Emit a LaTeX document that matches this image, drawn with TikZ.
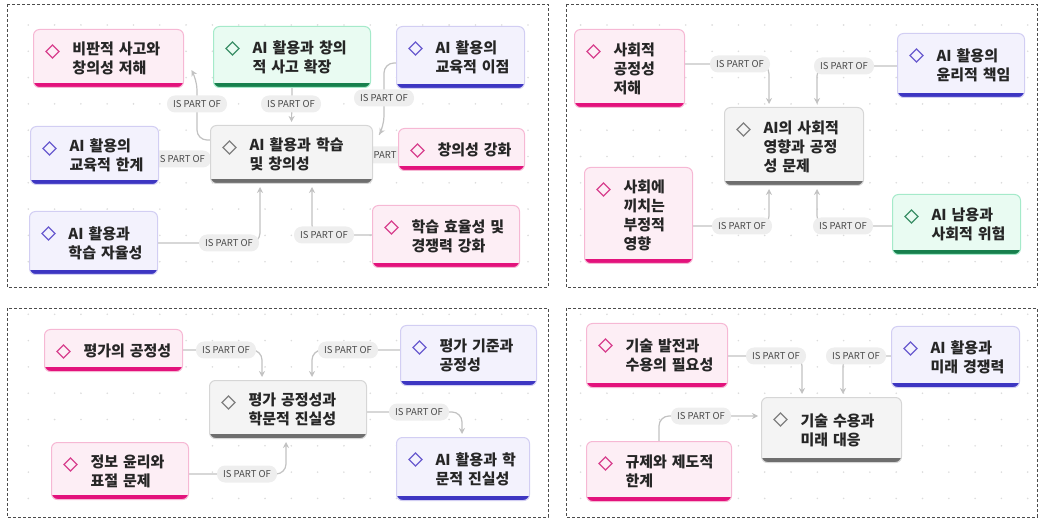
\documentclass[tikz,border=0pt]{standalone}
\usepackage{fontspec}
\setmainfont{Noto Sans CJK KR}
\usetikzlibrary{arrows.meta}
\definecolor{pinkfill}{HTML}{FDEEF5}
\definecolor{pinkline}{HTML}{F6B8D4}
\definecolor{pinkbar}{HTML}{E3127C}
\definecolor{pinkdia}{HTML}{D8408E}
\definecolor{lavfill}{HTML}{F3F2FD}
\definecolor{lavline}{HTML}{D2CEF3}
\definecolor{lavbar}{HTML}{3D36C2}
\definecolor{lavdia}{HTML}{6A5BCF}
\definecolor{grnfill}{HTML}{E9FBF2}
\definecolor{grnline}{HTML}{A5EACA}
\definecolor{grnbar}{HTML}{17804D}
\definecolor{grndia}{HTML}{3B8F68}
\definecolor{gryfill}{HTML}{F4F4F4}
\definecolor{gryline}{HTML}{D6D6D6}
\definecolor{grybar}{HTML}{6E6E6E}
\definecolor{grydia}{HTML}{808080}
\definecolor{boxtext}{HTML}{262626}
\definecolor{lnk}{HTML}{C2C2C2}
\definecolor{pill}{HTML}{EEEEEE}
\definecolor{pilltext}{HTML}{4A4A4A}
\definecolor{dotc}{HTML}{DCDCDC}
\newcommand\boxfont{\fontsize{15}{19}\selectfont\bfseries}
\newcommand\tagfont{\fontsize{9.5}{10}\selectfont}
\pgfdeclarelayer{dots}
\pgfdeclarelayer{links}
\pgfsetlayers{dots,links,main}
\tikzset{
    kbox/.style n args={4}{
        rectangle,
        rounded corners=6pt,
        anchor=north west,
        fill=#1,
        draw=#2,
        line width=1pt,
        inner xsep=8pt,
        inner ysep=2pt,
        align=left,
        font=\boxfont,
        text=boxtext,
        execute at begin node={\leftskip=31pt\rightskip=-14pt plus 1fil},
        path picture={
            \fill[#3, sharp corners] (path picture bounding box.south west) rectangle ([yshift=4.5pt]path picture bounding box.south east);
            \draw[#4, sharp corners, line width=1.3pt] ([xshift=19pt,yshift=-22pt]path picture bounding box.north west) +(-6.5pt,0pt) -- +(0pt,6.5pt) -- +(6.5pt,0pt) -- +(0pt,-6.5pt) -- cycle;
        }
    },
    pinkbox/.style={kbox={pinkfill}{pinkline}{pinkbar}{pinkdia}},
    lavbox/.style={kbox={lavfill}{lavline}{lavbar}{lavdia}},
    grnbox/.style={kbox={grnfill}{grnline}{grnbar}{grndia}},
    grybox/.style={kbox={gryfill}{gryline}{grybar}{grydia}},
    boxw/.style={text width=#1pt-16pt},
    partof/.style={
        fill=pill,
        rounded corners=8pt,
        minimum width=60pt,
        minimum height=17pt,
        inner sep=0pt,
        font=\tagfont,
        text=pilltext
    },
    ptr/.style={
        -{Stealth[length=6pt,width=6pt]},
        draw=lnk,
        line width=1.2pt,
        rounded corners=10pt,
        shorten >=3pt
    },
    panel/.style={draw=black!70, line width=0.8pt, dash pattern=on 3pt off 2pt}
}
\begin{document}
\begin{tikzpicture}[x=1pt, y=-1pt]
    \useasboundingbox (0,0) rectangle (1041,518);

    % dotted background
    \begin{pgfonlayer}{dots}
        \foreach \xa/\ya/\xb/\yb in {7/4/548/287, 566/4/1037/287, 7/308/548/517, 566/308/1037/517}{
            \begin{scope}
                \clip (\xa,\ya) rectangle (\xb,\yb);
                \foreach \i in {0,...,39}
                    \foreach \j in {0,...,19}
                        \fill[dotc] (2+26.3*\i, 25+26.3*\j) circle (0.9pt);
            \end{scope}
        }
    \end{pgfonlayer}

    \draw[panel] (7,4) rectangle (548,287);
    \draw[panel] (566,4) rectangle (1037,287);
    \draw[panel] (7,308) rectangle (548,517);
    \draw[panel] (566,308) rectangle (1037,517);

    % panel 1
    \node[partof] (tCrit) at (197,104) {IS PART OF};
    \node[partof] (tExt) at (291,104) {IS PART OF};
    \node[partof] (tMerit) at (384,98) {IS PART OF};
    \node[partof] (tLimit) at (181,159) {IS PART OF};
    \node[partof] (tBoost) at (387,155) {IS PART OF};
    \node[partof] (tAuto) at (229,243) {IS PART OF};
    \node[partof] (tEff) at (324,235) {IS PART OF};

    \node[pinkbox, boxw=150, minimum height=58pt] (Crit) at (33,29) {비판적 사고와\\창의성 저해};
    \node[grnbox, boxw=157, minimum height=61pt] (Ext) at (213,26) {AI 활용과 창의\\적 사고 확장};
    \node[lavbox, boxw=128, minimum height=62pt] (Merit) at (396,26) {AI 활용의\\교육적 이점};
    \node[grybox, boxw=162, minimum height=58pt] (Learn) at (210,125) {AI 활용과 학습\\및 창의성};
    \node[lavbox, boxw=128, minimum height=58pt] (Limit) at (30,126) {AI 활용의\\교육적 한계};
    \node[pinkbox, boxw=126, minimum height=42pt] (Boost) at (398,128) {창의성 강화};
    \node[lavbox, boxw=128, minimum height=63pt] (Auto) at (29,211) {AI 활용과\\학습 자율성};
    \node[pinkbox, boxw=147, minimum height=62pt] (Eff) at (372,205) {학습 효율성 및\\경쟁력 강화};

    \begin{pgfonlayer}{links}
        \draw[ptr] (Learn.west |- 0,140) -| (197,80) -- ([xshift=6pt,yshift=-9pt]Crit.east);
        \draw[ptr] (Ext.south) -- (Learn.north);
        \draw[ptr] (Merit.west |- 0,63) -| (384,126) -- ([xshift=5pt,yshift=-12pt]Learn.north east);
        \draw[ptr] (Limit.east |- 0,159) -- (Learn.west |- 0,159);
        \draw[ptr] (Boost.west |- 0,155) -- (Learn.east |- 0,155);
        \draw[ptr] (Auto.east |- 0,243) -| (Learn.south -| 260,0);
        \draw[ptr] (Eff.west |- 0,235) -| (Learn.south -| 312,0);
    \end{pgfonlayer}

    % panel 2
    \node[partof] (tFair) at (740,64) {IS PART OF};
    \node[partof] (tEth) at (844,66) {IS PART OF};
    \node[partof] (tNeg) at (742,226) {IS PART OF};
    \node[partof] (tRisk) at (843,226) {IS PART OF};

    \node[pinkbox, boxw=110, minimum height=78pt] (Fair) at (574,29) {사회적\\공정성\\저해};
    \node[lavbox, boxw=127, minimum height=64pt] (Eth) at (897,33) {AI 활용의\\윤리적 책임};
    \node[grybox, boxw=139, minimum height=78pt] (Social) at (724,107) {AI의 사회적\\영향과 공정\\성 문제};
    \node[pinkbox, boxw=108, minimum height=96pt] (Neg) at (584,167) {사회에\\끼치는\\부정적\\영향};
    \node[grnbox, boxw=128, minimum height=60pt] (Risk) at (892,194) {AI 남용과\\사회적 위험};

    \begin{pgfonlayer}{links}
        \draw[ptr] (Fair.east |- 0,64) -| (Social.north -| 769,0);
        \draw[ptr] (Eth.west |- 0,66) -| (Social.north -| 817,0);
        \draw[ptr] (Neg.east |- 0,226) -| (Social.south -| 769,0);
        \draw[ptr] (Risk.west |- 0,226) -| (Social.south -| 817,0);
    \end{pgfonlayer}

    % panel 3
    \node[partof] (tEval) at (226,350) {IS PART OF};
    \node[partof] (tStd) at (348,350) {IS PART OF};
    \node[partof] (tInteg) at (419,412) {IS PART OF};
    \node[partof] (tPlag) at (247,474) {IS PART OF};

    \node[pinkbox, boxw=138, minimum height=42pt] (Eval) at (44,329) {평가의 공정성};
    \node[lavbox, boxw=136, minimum height=60pt] (Std) at (400,325) {평가 기준과\\공정성};
    \node[grybox, boxw=157, minimum height=58pt] (Honest) at (209,380) {평가 공정성과\\학문적 진실성};
    \node[pinkbox, boxw=137, minimum height=57pt] (Plag) at (51,442) {정보 윤리와\\표절 문제};
    \node[lavbox, boxw=133, minimum height=63pt] (Integ) at (396,437) {AI 활용과 학\\문적 진실성};

    \begin{pgfonlayer}{links}
        \draw[ptr] (Eval.east |- 0,350) -| (Honest.north -| 262,0);
        \draw[ptr] (Std.west |- 0,350) -| (Honest.north -| 312,0);
        \draw[ptr] (Honest.east |- 0,412) -| (Integ.north -| 462,0);
        \draw[ptr] (Plag.east |- 0,474) -| (Honest.south -| 286,0);
    \end{pgfonlayer}

    % panel 4
    \node[partof] (tNeed) at (776,356) {IS PART OF};
    \node[partof] (tComp) at (856,356) {IS PART OF};
    \node[partof] (tReg) at (701,416) {IS PART OF};

    \node[pinkbox, boxw=141, minimum height=64pt] (Need) at (586,323) {기술 발전과\\수용의 필요성};
    \node[lavbox, boxw=128, minimum height=61pt] (Comp) at (891,326) {AI 활용과\\미래 경쟁력};
    \node[grybox, boxw=140, minimum height=65pt] (Future) at (761,397) {기술 수용과\\미래 대응};
    \node[pinkbox, boxw=145, minimum height=60pt] (Reg) at (586,441) {규제와 제도적\\한계};

    \begin{pgfonlayer}{links}
        \draw[ptr] (Need.east |- 0,356) -| (Future.north -| 802,0);
        \draw[ptr] (Comp.west |- 0,356) -| (Future.north -| 843,0);
        \draw[ptr] (Reg.north -| 659,0) |- (Future.west |- 0,416);
    \end{pgfonlayer}
\end{tikzpicture}
\end{document}
